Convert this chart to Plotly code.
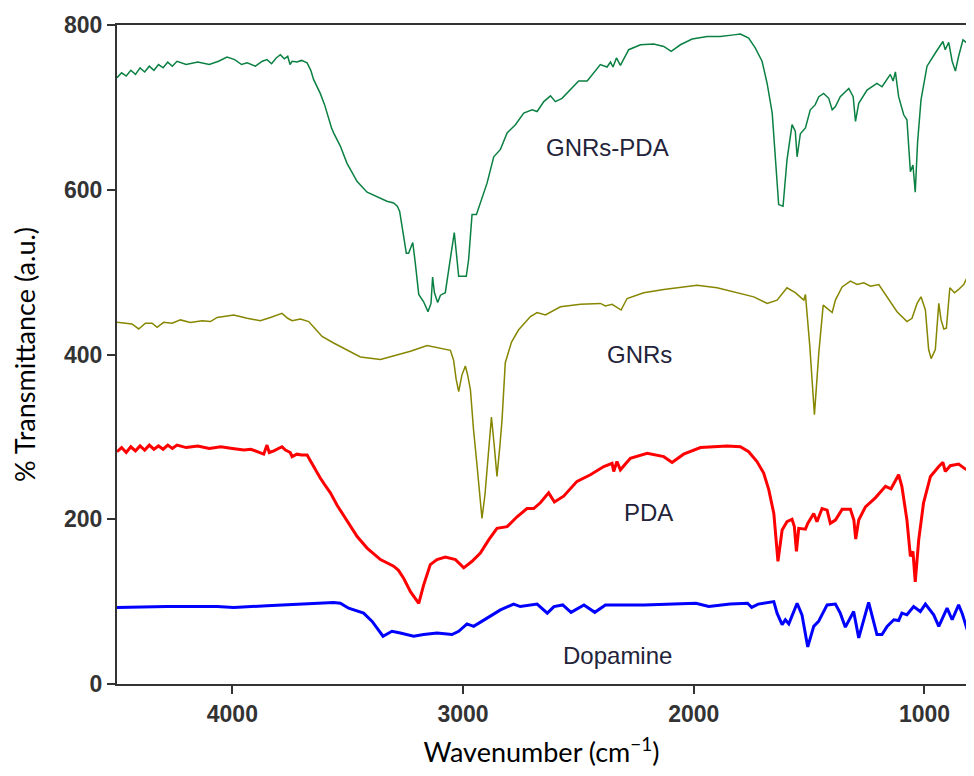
import plotly.graph_objects as go

# FTIR spectra (wavenumber in cm-1, transmittance in a.u.)
gnrs_pda_wn = [4500, 4480, 4460, 4440, 4420, 4400, 4380, 4360, 4340, 4320, 4300, 4280, 4260, 4240,
               4200, 4150, 4100, 4060, 4023, 3990, 3960, 3936, 3900, 3870, 3850, 3830, 3810, 3792,
               3775, 3760, 3750, 3741, 3720, 3700, 3676, 3660, 3648, 3619, 3600, 3590, 3570, 3561,
               3532, 3503, 3480, 3459, 3416, 3380, 3358, 3330, 3301, 3285, 3275, 3264, 3246, 3236,
               3218, 3207, 3192, 3171, 3152, 3139, 3132, 3124, 3110, 3098, 3077, 3058, 3038, 3019,
               2986, 2976, 2961, 2942, 2896, 2867, 2838, 2809, 2773, 2737, 2701, 2679, 2650, 2621,
               2600, 2571, 2535, 2499, 2462, 2441, 2405, 2376, 2361, 2350, 2335, 2318, 2282, 2231,
               2174, 2130, 2098, 2058, 2007, 1942, 1885, 1827, 1798, 1762, 1733, 1704, 1682, 1660,
               1646, 1632, 1613, 1596, 1574, 1560, 1552, 1538, 1516, 1495, 1474, 1458, 1437, 1415,
               1400, 1386, 1365, 1328, 1309, 1299, 1285, 1249, 1206, 1184, 1148, 1136, 1126, 1112,
               1090, 1076, 1061, 1050, 1040, 1030, 1015, 989, 953, 920, 910, 895, 880, 866, 852,
               833, 815, 787]
gnrs_pda_t = [736, 742, 738, 745, 740, 748, 743, 750, 745, 752, 748, 755, 750, 756,
              752, 755, 752, 756, 761, 758, 752, 754, 750, 756, 758, 753, 760, 764,
              759, 762, 752, 756, 755, 757, 754, 745, 734, 717, 703, 693, 675, 669,
              653, 632, 620, 610, 597, 592, 589, 586, 584, 580, 574, 555, 523, 523,
              536, 511, 473, 464, 452, 462, 494, 475, 463, 472, 475, 511, 548, 495,
              495, 515, 570, 570, 608, 640, 649, 669, 679, 693, 697, 695, 707, 714,
              707, 711, 722, 732, 732, 739, 752, 749, 755, 749, 760, 751, 770, 776,
              777, 774, 768, 776, 783, 786, 786, 788, 789, 784, 772, 756, 729, 693,
              640, 582, 580, 636, 679, 671, 640, 668, 675, 697, 703, 713, 717, 711,
              697, 701, 713, 723, 713, 683, 705, 721, 729, 725, 740, 732, 743, 713,
              691, 685, 622, 630, 597, 657, 709, 750, 766, 780, 770, 779, 756, 744, 762,
              782, 778, 776]

gnrs_wn = [4500, 4435, 4406, 4377, 4348, 4326, 4298, 4261, 4225, 4182, 4131, 4095, 4066, 3994,
           3936, 3879, 3835, 3785, 3760, 3741, 3705, 3669, 3640, 3611, 3561, 3503, 3445, 3358,
           3301, 3228, 3156, 3098, 3055, 3041, 3030, 3019, 3005, 2990, 2980, 2968, 2955, 2939,
           2918, 2905, 2896, 2877, 2865, 2853, 2840, 2831, 2817, 2790, 2759, 2708, 2679, 2643,
           2578, 2491, 2405, 2383, 2354, 2315, 2289, 2217, 2130, 2044, 1986, 1899, 1812, 1740,
           1682, 1639, 1596, 1560, 1523, 1516, 1497, 1477, 1458, 1439, 1422, 1400, 1386, 1357,
           1321, 1292, 1263, 1234, 1198, 1162, 1119, 1076, 1054, 1032, 1015, 996, 982, 971,
           953, 938, 928, 916, 905, 890, 870, 852, 830, 809, 794]
gnrs_t = [439, 437, 431, 438, 438, 433, 439, 438, 442, 439, 441, 440, 445, 448,
          444, 441, 445, 450, 444, 441, 443, 440, 431, 422, 414, 405, 397, 394,
          398, 404, 411, 408, 405, 393, 370, 355, 375, 386, 375, 357, 310, 264,
          201, 230, 264, 324, 290, 252, 290, 321, 390, 415, 430, 446, 451, 448,
          458, 461, 462, 459, 461, 454, 468, 475, 479, 482, 484, 481, 475, 470,
          462, 466, 481, 475, 466, 473, 410, 327, 402, 460, 456, 451, 466, 482,
          489, 485, 487, 483, 485, 470, 452, 440, 444, 462, 470, 454, 406, 395,
          406, 462, 442, 431, 432, 481, 475, 479, 485, 497, 496]

pda_wn = [4500, 4480, 4460, 4440, 4420, 4400, 4380, 4360, 4340, 4320, 4300, 4280, 4260, 4240,
          4200, 4150, 4100, 4050, 4000, 3950, 3920, 3893, 3864, 3850, 3840, 3820, 3800, 3785,
          3770, 3749, 3741, 3720, 3700, 3676, 3660, 3648, 3619, 3600, 3575, 3546, 3503, 3459,
          3416, 3358, 3301, 3280, 3257, 3228, 3192, 3171, 3142, 3113, 3077, 3033, 2997, 2961,
          2925, 2889, 2853, 2809, 2766, 2723, 2694, 2665, 2629, 2604, 2564, 2506, 2448, 2390,
          2354, 2347, 2333, 2318, 2275, 2202, 2130, 2094, 2044, 1971, 1856, 1798, 1762, 1726,
          1697, 1675, 1653, 1635, 1617, 1596, 1574, 1564, 1555, 1545, 1516, 1506, 1480, 1466,
          1444, 1422, 1408, 1386, 1357, 1321, 1306, 1298, 1285, 1256, 1213, 1169, 1145, 1112,
          1098, 1076, 1061, 1050, 1040, 1025, 1004, 974, 938, 920, 910, 888, 852, 823, 787]
pda_t = [282, 287, 281, 288, 283, 289, 284, 290, 285, 289, 285, 290, 286, 290,
         287, 289, 286, 288, 286, 284, 285, 282, 279, 290, 281, 283, 286, 288,
         284, 281, 276, 279, 278, 278, 270, 264, 250, 242, 232, 217, 199, 179,
         165, 151, 143, 138, 128, 112, 98, 120, 145, 151, 154, 151, 141, 149,
         159, 175, 189, 191, 203, 213, 213, 220, 232, 221, 228, 246, 254, 264,
         268, 258, 270, 260, 274, 280, 276, 269, 279, 287, 289, 288, 282, 270,
         256, 236, 207, 149, 187, 197, 200, 191, 161, 189, 188, 195, 207, 197,
         213, 211, 195, 199, 212, 212, 199, 176, 199, 215, 226, 240, 237, 254,
         240, 199, 155, 161, 124, 175, 220, 252, 264, 269, 258, 265, 267, 261, 258]

dopamine_wn = [4500, 4283, 4066, 3994, 3850, 3705, 3561, 3532, 3496, 3431, 3394, 3347, 3308, 3272,
               3214, 3171, 3113, 3048, 3019, 2983, 2954, 2896, 2838, 2781, 2752, 2679, 2663, 2635,
               2606, 2568, 2532, 2476, 2429, 2383, 2215, 2028, 1991, 1935, 1842, 1767, 1749, 1721,
               1653, 1639, 1617, 1603, 1588, 1552, 1531, 1506, 1480, 1459, 1422, 1386, 1365, 1343,
               1307, 1285, 1242, 1206, 1184, 1162, 1133, 1112, 1098, 1076, 1047, 1018, 996, 960,
               938, 902, 880, 852, 837, 815, 801, 787]
dopamine_t = [93, 94, 94, 93, 95, 97, 99, 98, 92, 86, 76, 58, 64, 62,
              58, 60, 62, 60, 64, 73, 70, 80, 90, 97, 94, 97, 93, 86,
              94, 96, 87, 96, 87, 96, 96, 97, 98, 94, 97, 98, 93, 97,
              100, 86, 72, 78, 73, 98, 84, 45, 70, 76, 96, 97, 86, 69,
              88, 56, 99, 60, 60, 70, 78, 77, 86, 84, 94, 88, 97, 84,
              70, 92, 78, 96, 86, 66, 72, 78]

labels = ["GNRs-PDA", "GNRs", "PDA", "Dopamine"]
label_wn = [2372, 2236, 2197, 2331]
label_t = [651, 400, 208, 34]

fig = go.Figure()

fig.add_trace(go.Scatter(x=gnrs_pda_wn, y=gnrs_pda_t, mode="lines", name="GNRs-PDA",
                         line=dict(color="#0b8043", width=1.5)))
fig.add_trace(go.Scatter(x=gnrs_wn, y=gnrs_t, mode="lines", name="GNRs",
                         line=dict(color="#868600", width=1.5)))
fig.add_trace(go.Scatter(x=pda_wn, y=pda_t, mode="lines", name="PDA",
                         line=dict(color="#ff0000", width=3)))
fig.add_trace(go.Scatter(x=dopamine_wn, y=dopamine_t, mode="lines", name="Dopamine",
                         line=dict(color="#0000ff", width=3)))

for text, wn, t in zip(labels, label_wn, label_t):
    fig.add_annotation(x=wn, y=t, text=text, showarrow=False,
                       font=dict(family="Liberation Sans, Arial", size=24, color="#23233a"))

tick_font = dict(family="Liberation Sans, Arial", size=23, color="#333333", weight="bold")

# the page body keeps its default 8px margin, so the figure is sized to fit the visible window
fig.update_layout(
    width=958, height=760,
    margin=dict(l=109, r=0, t=17, b=84),
    plot_bgcolor="white", paper_bgcolor="white",
    showlegend=False,
    xaxis=dict(
        range=[4500, 820], showgrid=False, zeroline=False, automargin=False,
        showline=True, linecolor="#333333", linewidth=2, mirror=True,
        ticks="outside", ticklen=8, tickwidth=2, tickcolor="#333333",
        tickvals=[4000, 3000, 2000, 1000], tickfont=tick_font,
        title=dict(text="Wavenumber (cm<sup>−1</sup>)", standoff=20,
                   font=dict(family="Lato", size=27, color="#000000")),
    ),
    yaxis=dict(
        range=[0, 800], showgrid=False, zeroline=False, automargin=False,
        showline=True, linecolor="#333333", linewidth=2,
        ticks="outside", ticklen=8, tickwidth=2, tickcolor="#333333",
        tickvals=[0, 200, 400, 600, 800], tickfont=tick_font,
        title=dict(text="% Transmittance (a.u.)", standoff=22,
                   font=dict(family="Lato", size=27, color="#000000")),
    ),
)

fig.write_html("out.html")
